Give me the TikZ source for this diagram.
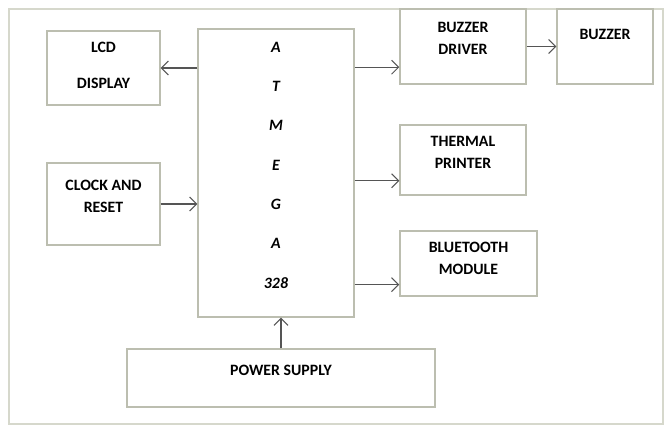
\documentclass[tikz,border=0pt]{standalone}
\usepackage{fontspec}
\setmainfont{Carlito}
\usetikzlibrary{arrows.meta}
\definecolor{boxline}{RGB}{188,190,176}
\definecolor{frameline}{RGB}{214,216,204}
\definecolor{wiregray}{RGB}{85,85,85}

\begin{document}
\begin{tikzpicture}[
    block/.style={rectangle, draw=boxline, thick, align=center,
        font=\fontsize{9}{12.5}\selectfont\bfseries, text depth=9pt},
    wire/.style={-{Straight Barb[length=1.4mm, width=2.8mm]}, draw=wiregray, semithick}
]

\useasboundingbox (0,0) rectangle (13.34,8.6);
\draw[frameline, thick] (0.18,0.12) rectangle (13.26,8.42);

\node[block, minimum width=2.26cm, minimum height=1.48cm, text depth=3pt] (lcd) at (2.07,7.24) {LCD\\[7.9pt]DISPLAY};
\node[block, minimum width=2.26cm, minimum height=1.64cm] (clock) at (2.07,4.52) {CLOCK AND\\RESET};
\node[block, minimum width=3.12cm, minimum height=5.76cm, font=\fontsize{9}{12.5}\selectfont\bfseries\itshape]
    (mcu) at (5.52,5.14) {A\\[9.9pt]T\\[9.9pt]M\\[9.9pt]E\\[9.9pt]G\\[9.9pt]A\\[9.9pt]328};
\node[block, minimum width=2.52cm, minimum height=1.5cm] (driver) at (9.26,7.67) {BUZZER\\DRIVER};
\node[block, minimum width=1.92cm, minimum height=1.5cm, text depth=14pt] (buzzer) at (12.1,7.67) {BUZZER};
\node[block, minimum width=2.52cm, minimum height=1.4cm] (printer) at (9.26,5.4) {THERMAL\\PRINTER};
\node[block, minimum width=2.74cm, minimum height=1.3cm, text depth=6pt] (bt) at (9.37,3.33) {BLUETOOTH\\MODULE};
\node[block, minimum width=6.16cm, minimum height=1.16cm] (power) at (5.62,1.04) {POWER SUPPLY};

\draw[wire] (mcu.west |- lcd.east) -- (lcd.east);
\draw[wire] (clock.east) -- (clock.east -| mcu.west);
\draw[wire] (mcu.east |- driver.198) -- (driver.198);
\draw[wire] (driver.east) -- (buzzer.west);
\draw[wire] (mcu.east |- printer.198) -- (printer.198);
\draw[wire] (mcu.east |- bt.197) -- (bt.197);
\draw[wire] (power.north) -- (power.north |- mcu.south);

\end{tikzpicture}
\end{document}
